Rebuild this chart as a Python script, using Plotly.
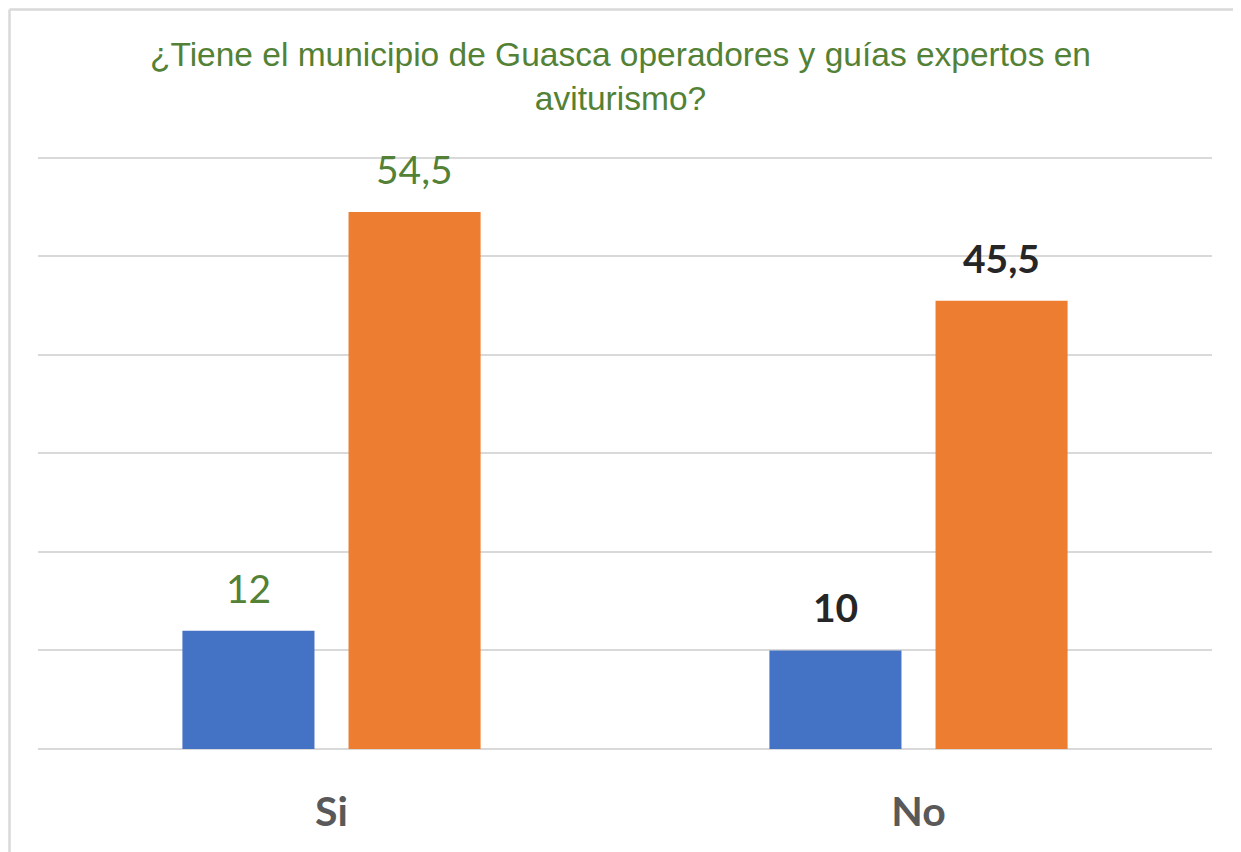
import plotly.graph_objects as go

categories = ["Si", "No"]
series_a = [12, 10]
series_b = [54.5, 45.5]
labels_a = ["12", "10"]
labels_b = ["54,5", "45,5"]
label_colors = ["#538135", "#262626"]
label_bold = [False, True]

title = "¿Tiene el municipio de Guasca operadores y guías expertos en<br>aviturismo?"

# page has an 8px body margin; compensate so the picture lines up with the window
OFF = 8
W, H = 1241 - OFF, 852 - OFF
ML, MR, MT, MB = 38 - OFF, 29, 153 - OFF, 103
BARGAP = 0.434
GROUPGAP = 0.205
YMAX = 60.5

fig = go.Figure()
fig.add_trace(go.Bar(x=categories, y=series_a, marker=dict(color="#4472C4", line=dict(width=0)), showlegend=False, hoverinfo="skip"))
fig.add_trace(go.Bar(x=categories, y=series_b, marker=dict(color="#ED7D31", line=dict(width=0)), showlegend=False, hoverinfo="skip"))

plot_w = W - ML - MR
plot_h = H - MT - MB
cat_w = plot_w / len(categories)
slot = cat_w * (1 - BARGAP) / 2
for i, c in enumerate(categories):
    for vals, labs, sgn in ((series_a, labels_a, -1), (series_b, labels_b, 1)):
        txt = labs[i]
        if label_bold[i]:
            txt = "<b>" + txt + "</b>"
        fig.add_annotation(x=c, y=vals[i], xref="x", yref="y", text=txt, showarrow=False,
                           xshift=sgn * slot / 2, yshift=18, yanchor="bottom",
                           font=dict(family="Lato, Carlito, sans-serif", size=39, color=label_colors[i]))

# frame: only the left and top edges are visible in the picture (drawn at the figure's edge)
bx0 = -(ML - 1.5) / plot_w
by1 = 1 + (MT - 1.5) / plot_h
fig.add_shape(type="line", xref="paper", yref="paper", x0=bx0, x1=1 + MR / plot_w, y0=by1, y1=by1,
              line=dict(color="#d9d9d9", width=2.5), layer="above")
fig.add_shape(type="line", xref="paper", yref="paper", x0=bx0, x1=bx0, y0=-MB / plot_h, y1=by1,
              line=dict(color="#d9d9d9", width=2.5), layer="above")

fig.update_layout(
    width=W, height=H,
    margin=dict(l=ML, r=MR, t=MT, b=MB),
    paper_bgcolor="white", plot_bgcolor="white",
    barmode="group", bargap=BARGAP, bargroupgap=GROUPGAP,
    title=dict(text=title, x=(620.5 - OFF - ML) / plot_w, xref="paper", xanchor="center",
               y=1 - (66 - OFF) / H, yref="container", yanchor="middle",
               font=dict(family="Liberation Sans, Arial, sans-serif", size=33.5, color="#538135")),
    xaxis=dict(showgrid=False, showline=False, zeroline=False, ticks="",
               tickfont=dict(family="Lato, Carlito, sans-serif", size=41, color="#595959", weight="bold"),
               ticklabelstandoff=35),
    yaxis=dict(range=[0, YMAX], dtick=10, showgrid=True, gridcolor="#d9d9d9", gridwidth=1.5,
               zeroline=True, zerolinecolor="#d9d9d9", zerolinewidth=1.5,
               showticklabels=False, ticks=""),
)

fig.write_html("out.html")
